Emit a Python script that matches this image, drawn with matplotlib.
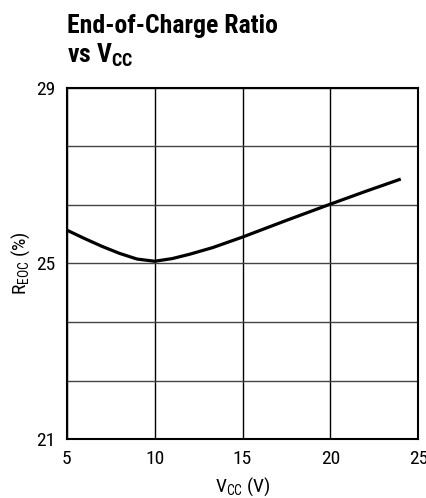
import matplotlib
matplotlib.use("Agg")
import matplotlib.pyplot as plt

plt.rcParams['font.family'] = ['Roboto Condensed', 'DejaVu Sans']
plt.rcParams['mathtext.default'] = 'regular'

# supply voltage (V) vs end-of-charge ratio (%)
vcc = [5, 6, 7, 8, 9, 10, 11, 12, 13.3, 15, 17.5, 20, 22, 24]
reoc = [25.76, 25.57, 25.39, 25.23, 25.10, 25.05, 25.11, 25.21, 25.36, 25.60, 25.98, 26.35, 26.64, 26.92]

x_ticks = [5, 10, 15, 20, 25]
y_ticks = [21, 25, 29]
y_grid = [21 + i * 8 / 6 for i in range(7)]

fig = plt.figure(figsize=(4.26, 4.98), dpi=100)
ax = fig.add_axes([0.1565, 0.118, 0.8255, 0.706])

for x in x_ticks:
    ax.axvline(x, color='black', lw=1.0, zorder=1)
for y in y_grid:
    ax.axhline(y, color='#444444', lw=1.0, zorder=1)

ax.plot(vcc, reoc, color='black', lw=2.3, zorder=3, solid_capstyle='butt')

ax.set_xlim(5, 25)
ax.set_ylim(21, 29)
ax.set_xticks(x_ticks)
ax.set_yticks(y_ticks)
ax.tick_params(length=0, labelsize=14)
ax.tick_params(axis='x', pad=8)
ax.tick_params(axis='y', pad=8)
for s in ax.spines.values():
    s.set_linewidth(1.5)

ax.set_xlabel('V$_{CC}$ (V)', fontsize=14, labelpad=5)
ax.set_ylabel('R$_{EOC}$ (%)', fontsize=14, labelpad=3)

fig.text(0.157, 0.934, 'End-of-Charge Ratio', fontsize=18.5, fontweight='bold', ha='left', va='baseline')
fig.text(0.157, 0.874, 'vs V$_{CC}$', fontsize=18.5, fontweight='bold', ha='left', va='baseline')

fig.savefig('out.png', dpi=100)
